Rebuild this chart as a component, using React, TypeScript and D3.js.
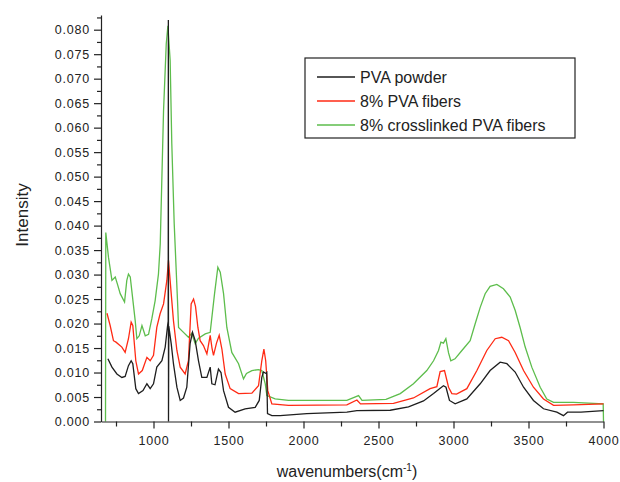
import React, { useRef, useEffect } from 'react';
import * as d3 from 'd3';

// wavenumber (cm-1) / intensity pairs
const powderWn = [696, 723, 756, 789, 811, 833, 851, 862, 882, 900, 930, 956, 978, 1000, 1022, 1056, 1078, 1094, 1098, 1099, 1100, 1102, 1118, 1133, 1156, 1178, 1200, 1222, 1244, 1260, 1278, 1300, 1322, 1356, 1378, 1389, 1410, 1433, 1450, 1467, 1500, 1544, 1611, 1678, 1705, 1722, 1733, 1750, 1755, 1760, 1789, 1844, 2022, 2289, 2356, 2578, 2700, 2800, 2867, 2907, 2933, 2950, 2973, 3011, 3089, 3178, 3244, 3311, 3356, 3411, 3467, 3533, 3600, 3689, 3733, 3760, 3850, 4000];
const powderI = [0.0128, 0.0111, 0.0097, 0.0090, 0.0092, 0.0114, 0.0124, 0.0118, 0.0067, 0.0057, 0.0063, 0.0077, 0.0067, 0.0077, 0.0111, 0.0124, 0.0152, 0.0196, 0.0205, 0.082, 0.0, 0.0195, 0.0159, 0.0118, 0.0070, 0.0043, 0.0048, 0.0070, 0.0159, 0.0182, 0.0165, 0.0124, 0.0090, 0.0090, 0.0111, 0.0077, 0.0075, 0.0107, 0.0100, 0.0063, 0.0029, 0.0019, 0.0026, 0.0029, 0.0043, 0.0090, 0.0101, 0.0098, 0.0100, 0.0016, 0.0012, 0.0012, 0.0016, 0.0019, 0.0022, 0.0023, 0.0030, 0.0042, 0.0057, 0.0067, 0.0073, 0.0070, 0.0043, 0.0036, 0.0046, 0.0077, 0.0104, 0.0121, 0.0118, 0.0101, 0.0070, 0.0043, 0.0026, 0.0019, 0.0012, 0.0019, 0.0019, 0.0022];

const fiberWn = [690, 711, 733, 750, 789, 811, 833, 851, 862, 882, 900, 925, 956, 978, 1000, 1022, 1044, 1067, 1089, 1100, 1118, 1133, 1156, 1178, 1211, 1233, 1251, 1267, 1280, 1296, 1311, 1333, 1356, 1378, 1390, 1400, 1420, 1438, 1456, 1478, 1511, 1567, 1656, 1700, 1722, 1736, 1748, 1762, 1789, 1900, 2289, 2356, 2380, 2600, 2733, 2844, 2889, 2911, 2940, 2967, 2989, 3020, 3089, 3156, 3222, 3278, 3322, 3367, 3411, 3467, 3533, 3600, 3667, 3800, 4000];
const fiberI = [0.0221, 0.0196, 0.0165, 0.0162, 0.0152, 0.0141, 0.0169, 0.0203, 0.0196, 0.0124, 0.0097, 0.0104, 0.0131, 0.0124, 0.0135, 0.0192, 0.0220, 0.0240, 0.0288, 0.0329, 0.0261, 0.0206, 0.0145, 0.0111, 0.0097, 0.0124, 0.0240, 0.0250, 0.0235, 0.0192, 0.0165, 0.0155, 0.0138, 0.0176, 0.0150, 0.0135, 0.0160, 0.0176, 0.0148, 0.0097, 0.0067, 0.0057, 0.0058, 0.0073, 0.0124, 0.0148, 0.0124, 0.0063, 0.0036, 0.0033, 0.0034, 0.0044, 0.0036, 0.0037, 0.0048, 0.0067, 0.0071, 0.0102, 0.0104, 0.0070, 0.0057, 0.0056, 0.0067, 0.0104, 0.0145, 0.0169, 0.0172, 0.0165, 0.0141, 0.0104, 0.0070, 0.0046, 0.0033, 0.0034, 0.0036];

const crossWn = [680, 682, 700, 723, 745, 760, 778, 807, 822, 833, 845, 878, 889, 905, 923, 945, 967, 989, 1011, 1033, 1045, 1067, 1085, 1096, 1111, 1122, 1138, 1160, 1167, 1200, 1233, 1255, 1278, 1300, 1345, 1378, 1407, 1429, 1445, 1467, 1489, 1522, 1567, 1600, 1620, 1656, 1700, 1722, 1745, 1756, 1811, 1900, 2289, 2367, 2390, 2550, 2645, 2733, 2822, 2867, 2900, 2916, 2933, 2949, 2967, 2982, 3010, 3056, 3111, 3144, 3178, 3211, 3244, 3289, 3333, 3378, 3411, 3444, 3478, 3522, 3578, 3622, 3667, 3800, 3998, 4000];
const crossI = [0.0, 0.0386, 0.0335, 0.0288, 0.0295, 0.0280, 0.0261, 0.0244, 0.0288, 0.0301, 0.0295, 0.0206, 0.0169, 0.0175, 0.0196, 0.0175, 0.0178, 0.0210, 0.0247, 0.0301, 0.0363, 0.0635, 0.0771, 0.0808, 0.0737, 0.0567, 0.0404, 0.0247, 0.0192, 0.0182, 0.0172, 0.0180, 0.0159, 0.0170, 0.0179, 0.0182, 0.0261, 0.0315, 0.0305, 0.0261, 0.0192, 0.0141, 0.0118, 0.0087, 0.0098, 0.0104, 0.0106, 0.0104, 0.0077, 0.0053, 0.0046, 0.0043, 0.0043, 0.0053, 0.0043, 0.0045, 0.0057, 0.0077, 0.0104, 0.0124, 0.0145, 0.0162, 0.0160, 0.0169, 0.0140, 0.0124, 0.0128, 0.0145, 0.0165, 0.0199, 0.0233, 0.0261, 0.0276, 0.0280, 0.0271, 0.0254, 0.0227, 0.0192, 0.0152, 0.0111, 0.0070, 0.0046, 0.0039, 0.0039, 0.0036, 0.0];

const seriesNames = ['PVA powder', '8% PVA fibers', '8% crosslinked PVA fibers'];
const seriesColors = ['#1e1e1e', '#ff2a14', '#5dbd4c'];

const xMajor = [1000, 1500, 2000, 2500, 3000, 3500, 4000];
const xMinor = [750, 1250, 1750, 2250, 2750, 3250, 3750];
const yMajor = d3.range(0, 0.0801, 0.005);
const yMinor = d3.range(0.0025, 0.0826, 0.005);

const FONT = '"Liberation Sans", Arial, sans-serif';

function App() {
  const svgRef = useRef<SVGSVGElement>(null);

  useEffect(() => {
    const svg = d3.select(svgRef.current);
    svg.selectAll('*').remove();

    const x = d3.scaleLinear().domain([650, 4000]).range([101, 603.5]);
    const y = d3.scaleLinear().domain([0, 0.083]).range([421.5, 15]);

    const series = [
      powderWn.map((w, i) => [w, powderI[i]]),
      fiberWn.map((w, i) => [w, fiberI[i]]),
      crossWn.map((w, i) => [w, crossI[i]]),
    ];

    const line = d3.line<number[]>().x(d => x(d[0])).y(d => y(d[1]));

    // draw green first so black spike sits on top
    [2, 1, 0].forEach(k => {
      svg.append('path')
        .datum(series[k])
        .attr('d', line)
        .attr('fill', 'none')
        .attr('stroke', seriesColors[k])
        .attr('stroke-width', 1.3);
    });

    // axes
    const gx = svg.append('g').attr('transform', 'translate(0,421.5)');
    gx.call(d3.axisBottom(x).tickValues(xMajor).tickSize(7).tickSizeOuter(0).tickPadding(8).tickFormat(d3.format('d')));
    gx.append('g').call(d3.axisBottom(x).tickValues(xMinor).tickSize(5).tickFormat(() => ''))
      .select('.domain').remove();

    const gy = svg.append('g').attr('transform', 'translate(101,0)');
    gy.call(d3.axisLeft(y).tickValues(yMajor).tickSize(7).tickSizeOuter(0).tickPadding(4).tickFormat(d3.format('.3f')));
    gy.append('g').call(d3.axisLeft(y).tickValues(yMinor).tickSize(4).tickFormat(() => ''))
      .select('.domain').remove();

    svg.selectAll('.domain, .tick line').attr('stroke', '#222').attr('stroke-width', 1.2);
    svg.selectAll('.tick text')
      .attr('font-family', FONT)
      .attr('font-size', 12.5)
      .attr('letter-spacing', 0.8)
      .attr('fill', '#222');

    // axis titles
    svg.append('text')
      .attr('x', 347).attr('y', 477)
      .attr('text-anchor', 'middle')
      .attr('font-family', FONT).attr('font-size', 16).attr('fill', '#222')
      .html('wavenumbers(cm<tspan dy="-6" font-size="10">-1</tspan><tspan dy="6">)</tspan>');

    svg.append('text')
      .attr('transform', 'translate(28,215) rotate(-90)')
      .attr('text-anchor', 'middle')
      .attr('font-family', FONT).attr('font-size', 17).attr('fill', '#222')
      .text('Intensity');

    // legend
    const lg = svg.append('g');
    lg.append('rect')
      .attr('x', 305).attr('y', 58).attr('width', 270).attr('height', 80)
      .attr('fill', 'white').attr('stroke', '#222').attr('stroke-width', 1.2);
    seriesNames.forEach((name, i) => {
      const yy = 77 + i * 24;
      lg.append('line')
        .attr('x1', 317).attr('x2', 355).attr('y1', yy).attr('y2', yy)
        .attr('stroke', seriesColors[i]).attr('stroke-width', 1.3);
      lg.append('text')
        .attr('x', 360).attr('y', yy + 5.5)
        .attr('font-family', FONT).attr('font-size', 16).attr('fill', '#222')
        .text(name);
    });
  }, []);

  return (
    <svg ref={svgRef} width={620} height={482}
      style={{ position: 'absolute', left: 0, top: 0, background: 'white' }} />
  );
}

export default App;
